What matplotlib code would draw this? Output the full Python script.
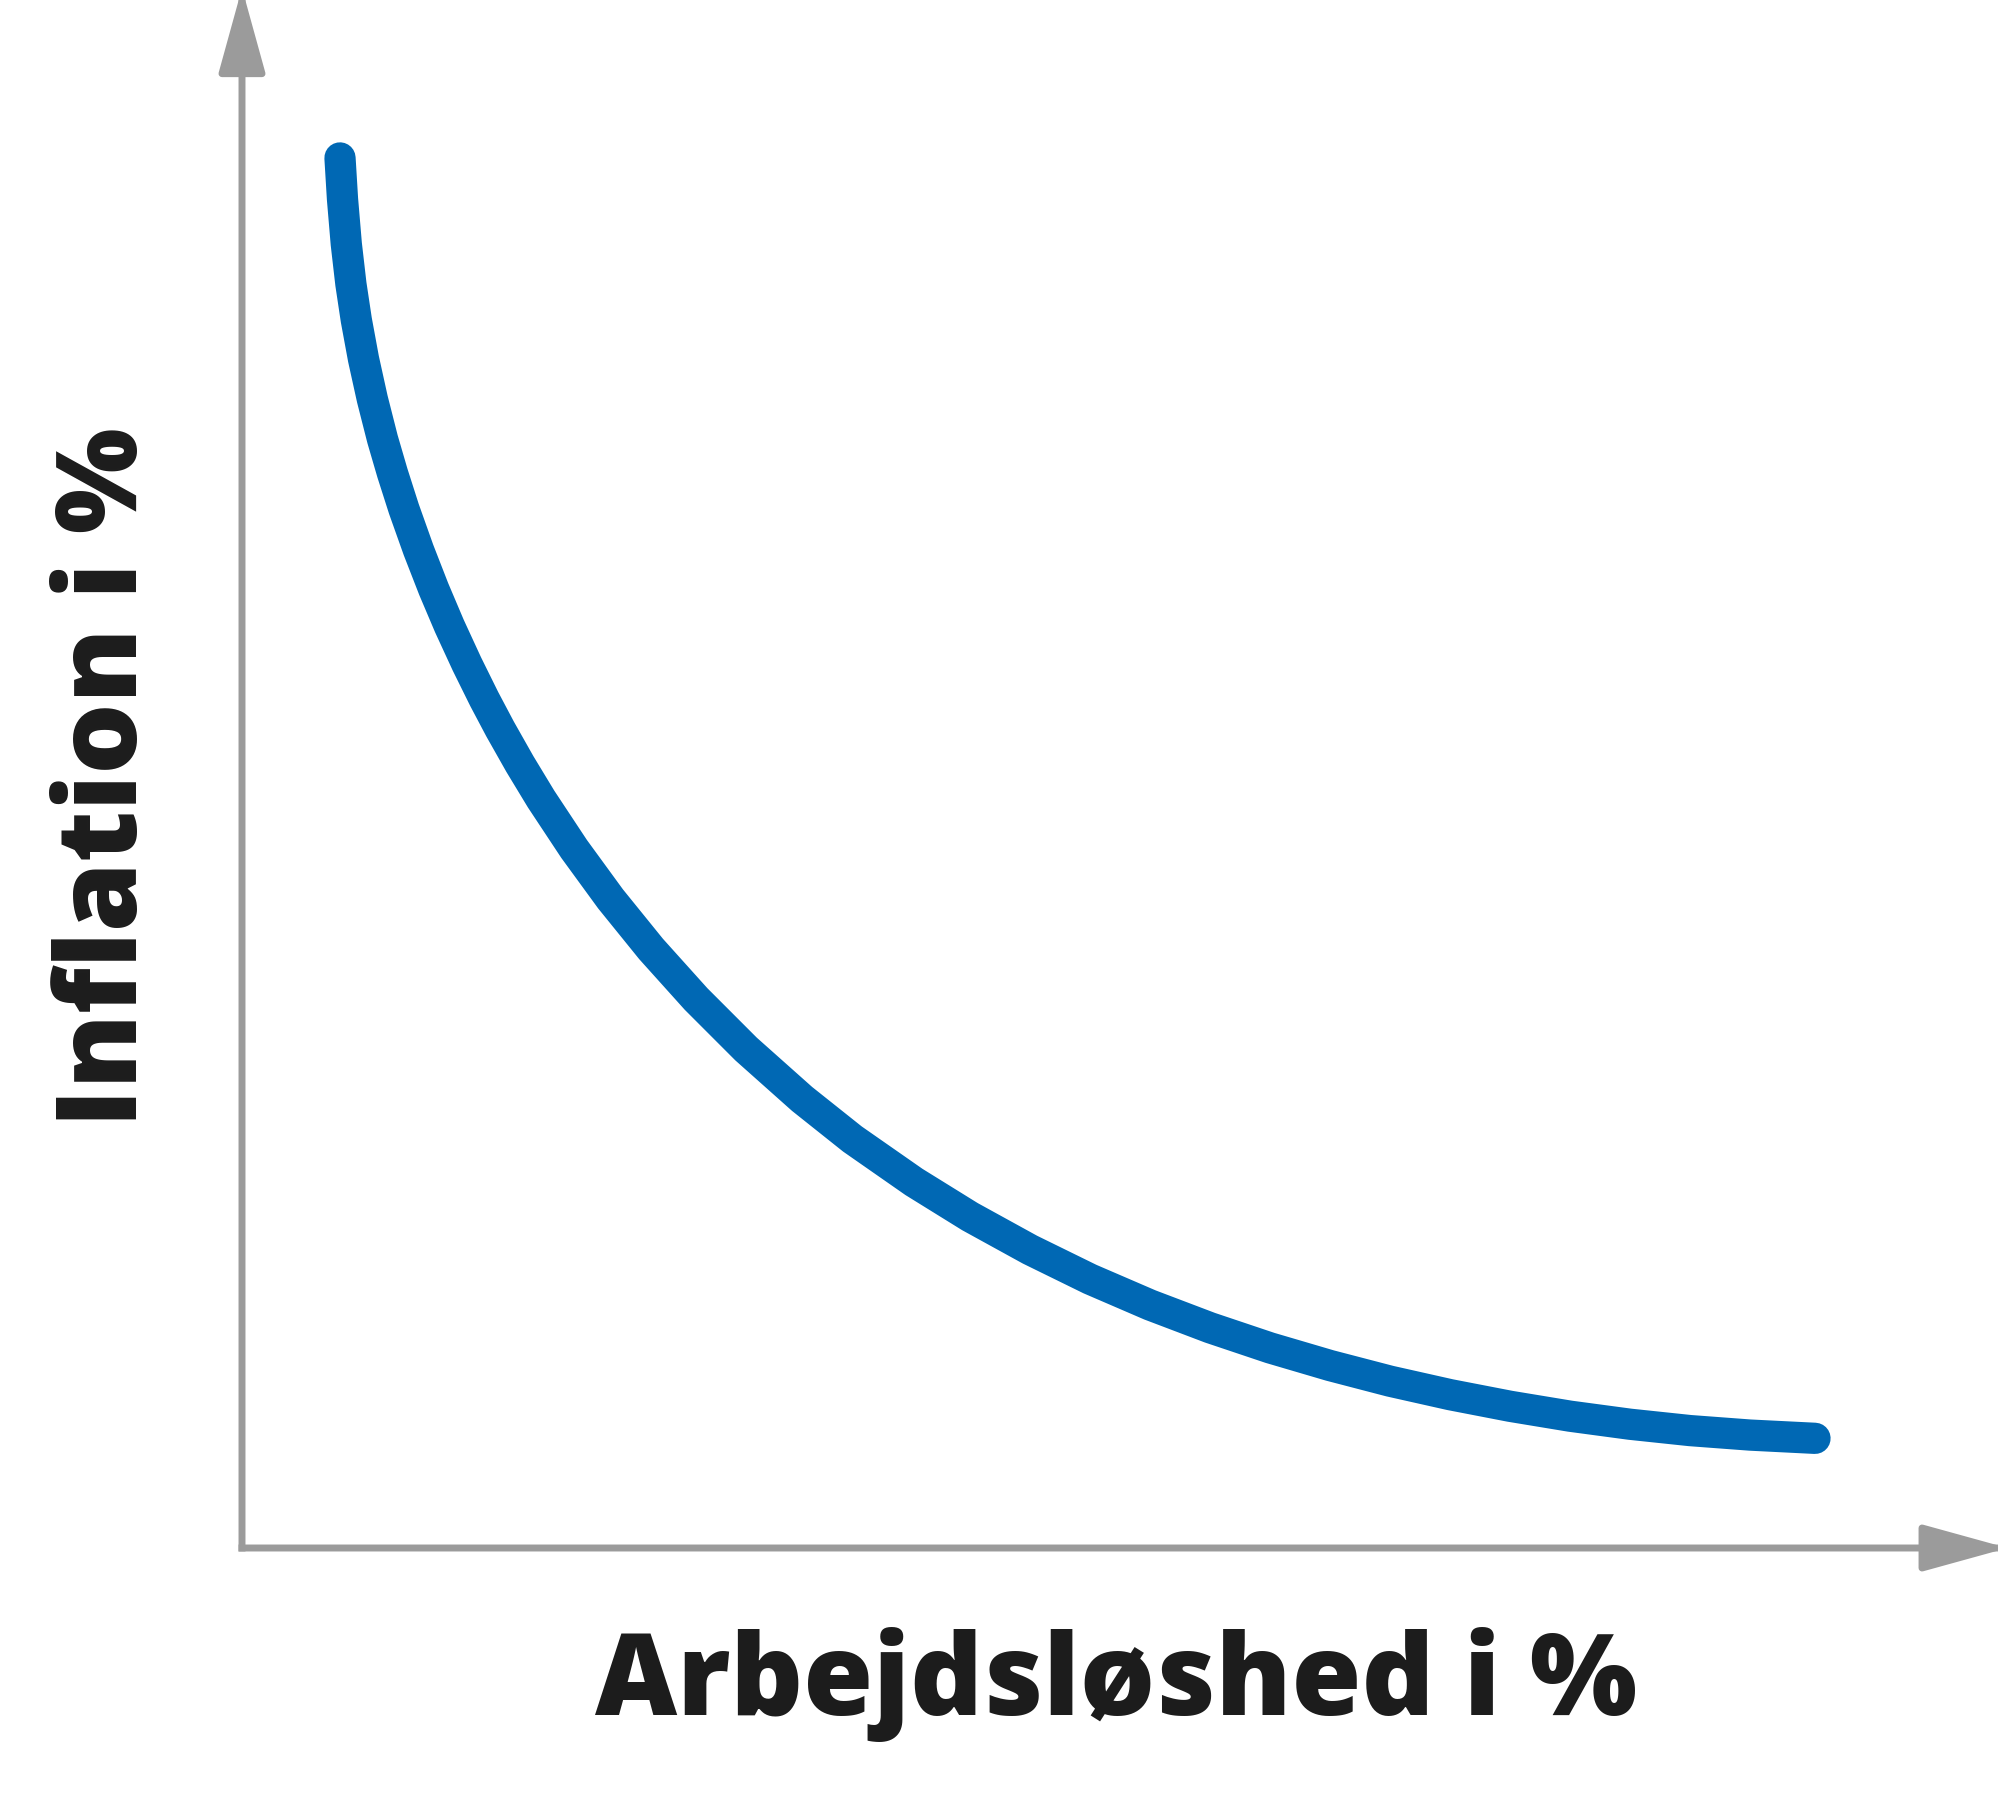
import matplotlib
matplotlib.use("Agg")
import matplotlib.pyplot as plt
from matplotlib.patches import FancyArrowPatch

# ---- data (arbitrary units, axis tips = 100) ----
unemployment = [5.584, 5.726, 5.943, 6.205, 6.513, 6.923, 7.425, 8.006, 8.570,
                9.225, 10.057, 10.923, 11.818, 12.815, 13.801, 14.707, 15.835,
                17.043, 18.923, 21.003, 23.311, 25.875, 28.724, 31.915, 34.786,
                38.291, 41.481, 44.900, 48.319, 51.738, 55.157, 58.575, 61.994,
                65.413, 68.832, 72.251, 75.670, 79.088, 82.507, 85.926, 89.630]
inflation = [89.74, 87.09, 84.18, 81.60, 79.28, 76.76, 74.18, 71.59, 69.40,
             67.08, 64.43, 61.91, 59.52, 57.07, 54.81, 52.87, 50.61, 48.35,
             45.13, 41.90, 38.67, 35.44, 32.21, 28.99, 26.40, 23.63, 21.39,
             19.26, 17.36, 15.69, 14.22, 12.92, 11.78, 10.77, 9.90, 9.15,
             8.51, 7.99, 7.58, 7.29, 7.08]
x_label = "Arbejdsløshed i %"
y_label = "Inflation i %"

W, H, DPI = 2000, 1815, 100
fig = plt.figure(figsize=(W / DPI, H / DPI), dpi=DPI)
ax = fig.add_axes([0, 0, 1, 1])
ax.set_axis_off()

# axis frame: origin at pixel (242, 1549); x tip at 1997 px, y tip at 0 px
x0, y0 = 242, 1549
sx = (1997 - x0) / 100.0
sy = y0 / 100.0
ax.set_xlim(-x0 / sx, (W - x0) / sx)
ax.set_ylim(-(H - y0) / sy, y0 / sy)

axis_color = "#9b9b9b"

def axis_arrow(start, end):
    arr = FancyArrowPatch(start, end,
                          arrowstyle="-|>,head_length=1.449,head_width=0.40",
                          mutation_scale=36, lw=5, color=axis_color,
                          shrinkA=0, shrinkB=0, capstyle="projecting",
                          joinstyle="round", zorder=2)
    ax.add_patch(arr)

axis_arrow((0, 0), (100.6, 0))
axis_arrow((0, 0), (0, 100.7))

ax.plot(unemployment, inflation, color="#0068b4", lw=22.5,
        solid_capstyle="round", solid_joinstyle="round", zorder=3)

font = ["Open Sans", "DejaVu Sans"]
fig.text(1116 / W, 1 - 1715 / H, x_label, family=font, fontweight="heavy",
         fontsize=81.5, color="#1c1c1c", ha="center", va="baseline",
         rotation_mode="anchor")
fig.text(137 / W, 1 - 777 / H, y_label, family=font, fontweight="heavy",
         fontsize=80.5, color="#1c1c1c", ha="center", va="baseline",
         rotation=90, rotation_mode="anchor")

fig.savefig("out.png", dpi=DPI, facecolor="white")
